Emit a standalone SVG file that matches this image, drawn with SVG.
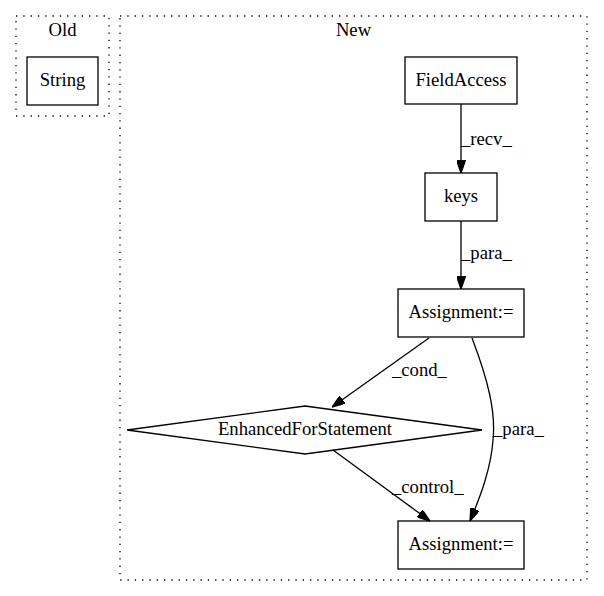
<svg xmlns="http://www.w3.org/2000/svg" width="604" height="596" viewBox="0 0 604 596">
<defs>
<style>
text{font-family:"Liberation Serif","Times New Roman",serif;font-size:18.67px;fill:#000}
.n{fill:none;stroke:#000;stroke-width:1.3}
.c{fill:none;stroke:#000;stroke-width:1.3;stroke-dasharray:1.3,6}
.e{fill:none;stroke:#000;stroke-width:1.3}
</style>
<marker id="a" viewBox="0 0 10 7" refX="10" refY="3.5" markerWidth="13" markerHeight="9" markerUnits="userSpaceOnUse" orient="auto">
<path d="M0,0 L10,3.5 L0,7 Z" fill="#000" stroke="#000"/>
</marker>
</defs>
<rect width="604" height="596" fill="#fff"/>
<g id="cluster_old">
<rect class="c" x="16" y="16" width="93" height="100"/>
<text x="62.5" y="36" text-anchor="middle">Old</text>
</g>
<g id="cluster_new">
<rect class="c" x="120" y="16" width="467" height="564"/>
<text x="353.5" y="36" text-anchor="middle">New</text>
</g>
<g id="string">
<rect class="n" x="27" y="57" width="71" height="48"/>
<text x="62.5" y="86" text-anchor="middle">String</text>
</g>
<g id="fieldaccess">
<rect class="n" x="405" y="57" width="112" height="47"/>
<text x="461" y="86" text-anchor="middle">FieldAccess</text>
</g>
<g id="keys">
<rect class="n" x="425" y="173" width="72" height="48"/>
<text x="461" y="202" text-anchor="middle">keys</text>
</g>
<g id="assign1">
<rect class="n" x="398" y="289" width="126" height="48"/>
<text x="461" y="318" text-anchor="middle">Assignment:=</text>
</g>
<g id="enhancedfor">
<polygon class="n" points="305,406 482,430 305,454 127,430"/>
<text x="305" y="434.5" text-anchor="middle">EnhancedForStatement</text>
</g>
<g id="assign2">
<rect class="n" x="398" y="521" width="126" height="48"/>
<text x="461" y="550" text-anchor="middle">Assignment:=</text>
</g>
<g id="connectors">
<path class="e" d="M461,104 L461,173" marker-end="url(#a)"/>
<text x="461" y="145">_recv_</text>
<path class="e" d="M461,221 L461,289" marker-end="url(#a)"/>
<text x="461" y="259">_para_</text>
<path class="e" d="M429,338 L332,407" marker-end="url(#a)"/>
<text x="392" y="376">_cond_</text>
<path class="e" d="M472,338 C488,380 496,412 493,440 C491,468 481,495 470,521" marker-end="url(#a)"/>
<text x="493" y="435">_para_</text>
<path class="e" d="M333,450 L430,521" marker-end="url(#a)"/>
<text x="392" y="493">_control_</text>
</g>
</svg>
